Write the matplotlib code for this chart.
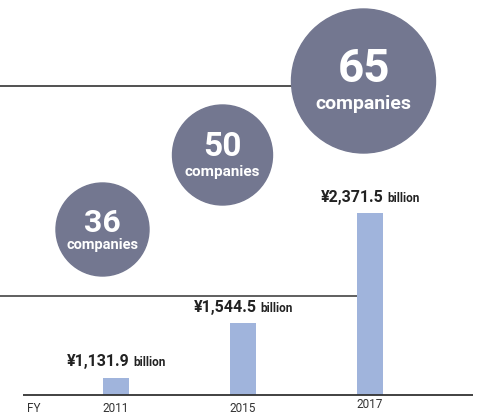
import matplotlib
matplotlib.use("Agg")
import matplotlib.pyplot as plt
from matplotlib import font_manager
from matplotlib.patches import Circle
from matplotlib.offsetbox import TextArea, HPacker, AnnotationBbox

# Data
years = ["2011", "2015", "2017"]
amounts = [1131.9, 1544.5, 2371.5]          # ¥ billion
companies = [36, 50, 65]

available = {f.name for f in font_manager.fontManager.ttflist}
cond = "Liberation Sans Narrow" if "Liberation Sans Narrow" in available else "Roboto"

W, H = 488, 416
fig = plt.figure(figsize=(W / 100, H / 100), dpi=100)

# Bar axes: pixel-aligned, baseline at y=395 px, value 1000 at baseline
px_per_cat = 127.0
x0_px = 116.0
base_px = 395.0
bil_per_px = 7.547
ax = fig.add_axes([0, 0, 1, 1])
ax.set_xlim(-x0_px / px_per_cat, (W - x0_px) / px_per_cat)
ax.set_ylim(1000 - (H - base_px) * bil_per_px, 1000 + base_px * bil_per_px)
ax.axis("off")

xs = list(range(len(years)))
ax.bar(xs, [a - 1000 for a in amounts], bottom=1000, width=26 / px_per_cat,
       color="#a0b4dc", zorder=2)

for x, a in zip(xs, amounts):
    num = TextArea(f"¥{a:,.1f}", textprops=dict(family=cond, fontweight="bold",
                                                  fontsize=11.5, color="#222222"))
    unit = TextArea("billion", textprops=dict(family=cond, fontweight="bold",
                                               fontsize=8.5, color="#222222"))
    box = HPacker(children=[num, unit], align="baseline", pad=0, sep=2.5)
    ab = AnnotationBbox(box, (x, a), xybox=(0, 6), xycoords="data",
                        boxcoords="offset points", box_alignment=(0.5, 0),
                        frameon=False, zorder=4)
    ax.add_artist(ab)

# Overlay in pixel coordinates for rules, circles and axis labels
ov = fig.add_axes([0, 0, 1, 1], zorder=3)
ov.set_xlim(0, W)
ov.set_ylim(H, 0)
ov.axis("off")
ov.patch.set_alpha(0)

ov.plot([23, 473], [395, 395], color="#333333", lw=1.3, solid_capstyle="butt")
ov.plot([0, 357], [296, 296], color="#444444", lw=1.2, solid_capstyle="butt", zorder=1)
ov.plot([0, 292], [86, 86], color="#333333", lw=1.2, solid_capstyle="butt", zorder=1)

circ_pos = [(102.5, 229.5, 46.5), (222.5, 155.0, 50.0), (363.5, 81.0, 72.0)]
num_sizes = [23, 24, 33]
word_sizes = [10.5, 11, 14]
num_dy = [-7, -8, -12]
word_dy = [15, 17, 23]
for (cx, cy, r), n, ns, ws, nd, wd in zip(circ_pos, companies, num_sizes,
                                          word_sizes, num_dy, word_dy):
    ov.add_patch(Circle((cx, cy), r, color="#737790", zorder=2))
    ov.text(cx, cy + nd, str(n), ha="center", va="center", color="white",
            family=cond, fontweight="bold", fontsize=ns, zorder=3)
    ov.text(cx, cy + wd, "companies", ha="center", va="center", color="white",
            family=cond, fontweight="bold", fontsize=ws, zorder=3)

ov.text(27, 408, "FY", ha="left", va="center", fontsize=8.5, color="#333333",
        family=cond)
for i, y in enumerate(years):
    px = x0_px + i * px_per_cat
    ov.text(px, 408 if i < 2 else 405, y, ha="center", va="center",
            fontsize=8.5, color="#333333", family=cond)

fig.savefig("out.png", dpi=100)
